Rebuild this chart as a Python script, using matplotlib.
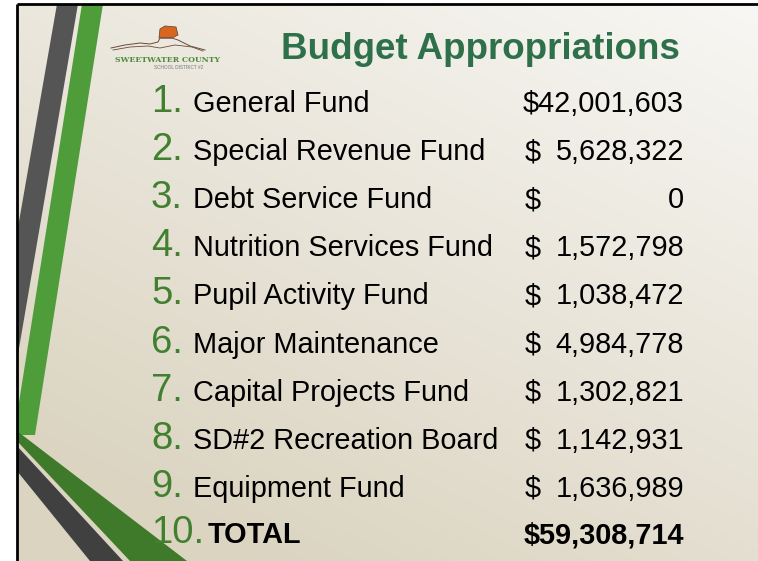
import numpy as np
import matplotlib
matplotlib.use("Agg")
import matplotlib.pyplot as plt
from matplotlib.patches import Polygon

# === DATA ===
title = "Budget Appropriations"
numbers = ["1.", "2.", "3.", "4.", "5.", "6.", "7.", "8.", "9.", "10."]
funds = [
    "General Fund",
    "Special Revenue Fund",
    "Debt Service Fund",
    "Nutrition Services Fund",
    "Pupil Activity Fund",
    "Major Maintenance",
    "Capital Projects Fund",
    "SD#2 Recreation Board",
    "Equipment Fund",
    "TOTAL",
]
amounts = [42001603, 5628322, 0, 1572798, 1038472, 4984778, 1302821, 1142931, 1636989, 59308714]

# === STYLE ===
W, H = 758, 561
FONT = "Liberation Sans"
title_green = "#2E704A"
num_green = "#41802F"

fig = plt.figure(figsize=(W / 100, H / 100), dpi=100)
ax = fig.add_axes([0, 0, 1, 1])
ax.set_xlim(0, W)
ax.set_ylim(H, 0)
ax.axis("off")

# slide background: soft diagonal gradient, light top-right to beige bottom-left
left, top = 17, 4
yy, xx = np.mgrid[0:H - top, 0:W - left]
t = (yy / (H - top)) * 0.7 + (1 - xx / (W - left)) * 0.45
t = np.clip(t, 0, 1)[..., None]
c_light = np.array([248, 247, 244]) / 255
c_dark = np.array([219, 212, 193]) / 255
img = c_light * (1 - t) + c_dark * t
ax.imshow(img, extent=[left, W, H, top], aspect="auto", zorder=0)

# decorative stripes on the left
shapes = [
    ([(57, 4), (78, 4), (17, 360), (17, 233)], "#555555"),
    ([(82, 4), (103, 4), (35, 435), (17, 435), (17, 415)], "#4F9D3A"),
    ([(17, 431), (187, H), (130, H), (17, 441)], "#3E7A2A"),
    ([(17, 446), (123, H), (90, H), (17, 471)], "#404040"),
]
for pts, col in shapes:
    ax.add_patch(Polygon(pts, closed=True, facecolor=col, edgecolor="none", zorder=1))

# slide border
ax.plot([left, left], [top, H], color="black", lw=2, zorder=5, solid_capstyle="butt")
ax.plot([left, W], [top, top], color="black", lw=2, zorder=5, solid_capstyle="butt")

# logo (rough sketch)
ax.add_patch(Polygon([(159, 38), (160, 29), (165, 26), (176, 27), (178, 35), (172, 38)],
                     closed=True, facecolor="#D9661F", edgecolor="#6B4A3A", lw=0.6, zorder=2))
ax.plot([111, 125, 140, 150, 158, 160, 172, 178, 190, 205],
        [48, 45, 43, 44, 42, 38, 38, 40, 46, 50], color="#6B4A3A", lw=0.7, zorder=2)
ax.plot([113, 130, 148, 160, 175, 192, 203],
        [50, 47, 46, 48, 45, 47, 51], color="#6B4A3A", lw=0.6, zorder=2)
ax.text(168, 60, "SWEETWATER COUNTY", fontsize=5.6, family="DejaVu Serif",
        fontweight="bold", color="#4E8A3A", ha="center", va="center", zorder=3)
ax.text(179, 67, "SCHOOL DISTRICT #2", fontsize=3.4, family=FONT,
        color="#777777", ha="center", va="center", zorder=3)

# title
ax.text(480, 59, title, fontsize=26.5, family=FONT, fontweight="bold",
        color=title_green, ha="center", va="baseline", zorder=3)

# list rows
for i, (num, fund, amt) in enumerate(zip(numbers, funds, amounts)):
    y = 112 + 48.1 * i if i < len(funds) - 1 else 543
    is_total = fund == "TOTAL"
    weight = "bold" if is_total else "normal"
    ax.text(151, y, num, fontsize=27.5, family=FONT, color=num_green,
            ha="left", va="baseline", zorder=3)
    ax.text(208 if is_total else 193, y, fund, fontsize=20.8, family=FONT,
            fontweight=weight, color="black", ha="left", va="baseline", zorder=3)
    s = f"{amt:,}"
    if len(s) >= 10:
        ax.text(684, y, "$" + s, fontsize=20.8, family=FONT, fontweight=weight,
                color="black", ha="right", va="baseline", zorder=3)
    else:
        ax.text(525, y, "$", fontsize=20.8, family=FONT, fontweight=weight,
                color="black", ha="left", va="baseline", zorder=3)
        ax.text(684, y, s, fontsize=20.8, family=FONT, fontweight=weight,
                color="black", ha="right", va="baseline", zorder=3)

fig.savefig("out.png", dpi=100, facecolor="white")
plt.close(fig)
